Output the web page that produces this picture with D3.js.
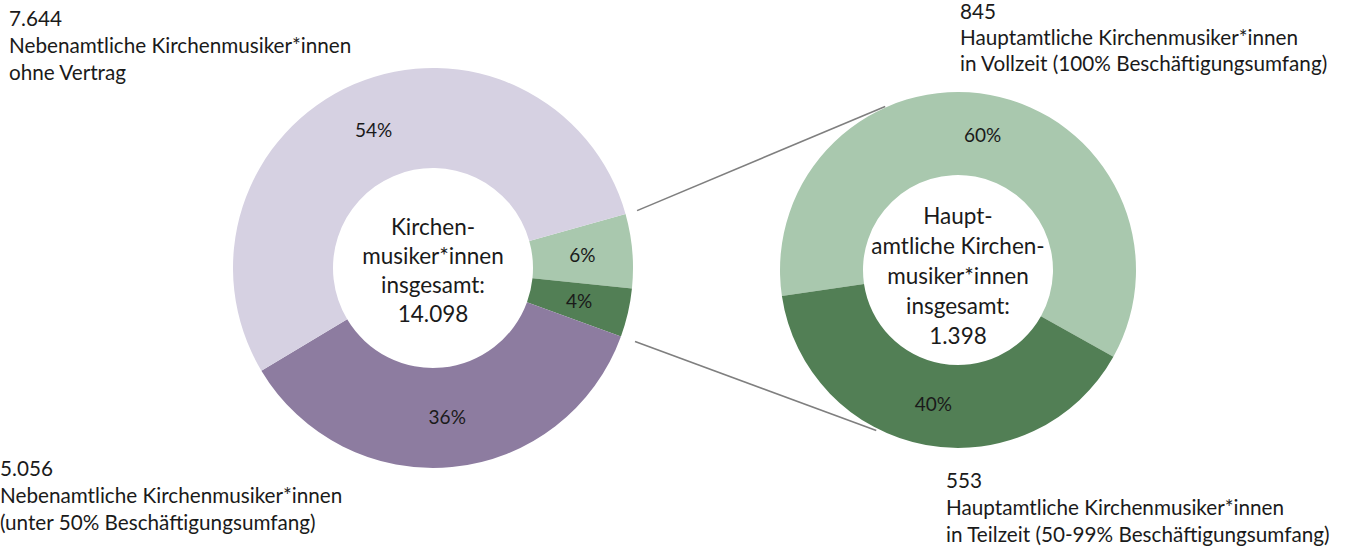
<!DOCTYPE html>
<html>
<head>
<meta charset="utf-8">
<script src="https://cdn.jsdelivr.net/npm/d3@7"></script>
<style>
  body { margin: 0; background: #fff; }
  svg text { font-family: Lato, sans-serif; fill: #1a1a1a; }
</style>
</head>
<body>
<div id="chart"></div>
<script>
// data
const groups = ['Hauptamtlich Vollzeit', 'Hauptamtlich Teilzeit', 'Nebenamtlich unter 50%', 'Nebenamtlich ohne Vertrag'];
const counts = [845, 553, 5056, 7644];
const mainGroups = ['Hauptamtlich Vollzeit', 'Hauptamtlich Teilzeit'];
const mainCounts = [845, 553];
const totalTitle = ['Kirchen-', 'musiker*innen', 'insgesamt:'];
const mainTitle = ['Haupt-', 'amtliche Kirchen-', 'musiker*innen', 'insgesamt:'];
const notes = {
  'Nebenamtlich ohne Vertrag': ['Nebenamtliche Kirchenmusiker*innen', 'ohne Vertrag'],
  'Nebenamtlich unter 50%': ['Nebenamtliche Kirchenmusiker*innen', '(unter 50% Beschäftigungsumfang)'],
  'Hauptamtlich Vollzeit': ['Hauptamtliche Kirchenmusiker*innen', 'in Vollzeit (100% Beschäftigungsumfang)'],
  'Hauptamtlich Teilzeit': ['Hauptamtliche Kirchenmusiker*innen', 'in Teilzeit (50-99% Beschäftigungsumfang)']
};

const width = 1349;
const height = 547;
const deg = Math.PI / 180;

const svg = d3.select('#chart')
  .append('svg')
  .attr('width', width)
  .attr('height', height);

const color = d3.scaleOrdinal()
  .domain(groups)
  .range(['#a9c8ae', '#527f55', '#8d7ca0', '#d6d1e2']);

// german number format: 14.098
const de = d3.formatLocale({ decimal: ',', thousands: '.', grouping: [3], currency: ['', ' €'] });
const num = de.format(',d');

function donut(names, values, opt) {
  const total = d3.sum(values);
  const pie = d3.pie()
    .sort(null)
    .startAngle(opt.start * deg)
    .endAngle(opt.start * deg + 2 * Math.PI);
  const arcs = pie(values).map((a, i) => Object.assign(a, { name: names[i] }));
  const arc = d3.arc().innerRadius(opt.inner).outerRadius(opt.outer);

  const g = svg.append('g')
    .attr('transform', `translate(${opt.cx}, ${opt.cy})`);

  g.selectAll('path')
    .data(arcs)
    .enter()
    .append('path')
    .attr('d', arc)
    .attr('fill', d => color(d.name));

  // percent labels at the centroid of each slice
  g.selectAll('.pct')
    .data(arcs)
    .enter()
    .append('text')
    .attr('class', 'pct')
    .attr('transform', d => `translate(${arc.centroid(d)})`)
    .attr('text-anchor', 'middle')
    .attr('dy', '0.35em')
    .style('font-size', '19px')
    .text(d => Math.round(d.value / total * 100) + '%');

  // title in the hole
  const lines = opt.title.concat([num(total)]);
  g.append('text')
    .attr('text-anchor', 'middle')
    .style('font-size', '22.5px')
    .selectAll('tspan')
    .data(lines)
    .enter()
    .append('tspan')
    .attr('x', 0)
    .attr('y', (d, i) => (i - (lines.length - 1) / 2) * opt.step + opt.titleShift)
    .attr('dy', '0.35em')
    .text(d => d);

  return { arcs, arc, opt };
}

const left = donut(groups, counts, { cx: 433, cy: 268, inner: 100, outer: 200, start: 74.3, title: totalTitle, titleShift: 3, step: 29 });
const right = donut(mainGroups, mainCounts, { cx: 958, cy: 270, inner: 95, outer: 178, start: -98.4, title: mainTitle, titleShift: 6, step: 30 });

// connector lines between the green part and the second donut
const greenStart = left.arcs[0].startAngle;
const greenEnd = left.arcs[1].endAngle;
const connectors = [
  [d3.pointRadial(greenStart, 212), d3.pointRadial(-24 * deg, 179)],
  [d3.pointRadial(greenEnd, 215), d3.pointRadial(207 * deg, 180)]
];
svg.append('g')
  .selectAll('line')
  .data(connectors)
  .enter()
  .append('line')
  .attr('x1', d => left.opt.cx + d[0][0])
  .attr('y1', d => left.opt.cy + d[0][1])
  .attr('x2', d => right.opt.cx + d[1][0])
  .attr('y2', d => right.opt.cy + d[1][1])
  .attr('stroke', '#7f7f7f')
  .attr('stroke-width', 1.6);

// annotations
const notePos = {
  'Nebenamtlich ohne Vertrag': [9, 26, 27],
  'Nebenamtlich unter 50%': [0, 476, 27],
  'Hauptamtlich Vollzeit': [960, 19, 26],
  'Hauptamtlich Teilzeit': [946, 488, 27]
};
groups.forEach((name, i) => {
  const [x, y, lh] = notePos[name];
  svg.append('text')
    .style('font-size', '20.7px')
    .selectAll('tspan')
    .data([num(counts[i])].concat(notes[name]))
    .enter()
    .append('tspan')
    .attr('x', x)
    .attr('y', (d, j) => y + j * lh)
    .text(d => d);
});
</script>
</body>
</html>
